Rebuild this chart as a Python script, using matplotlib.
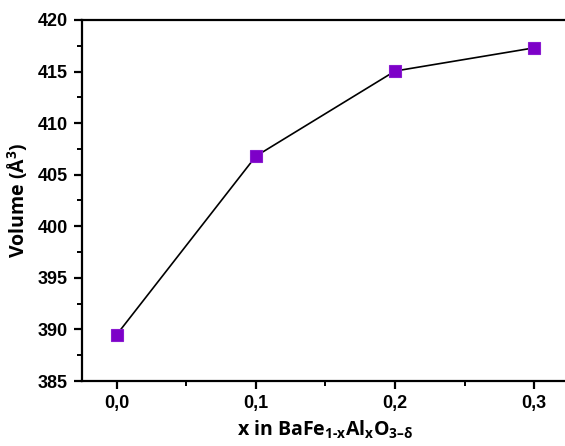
import matplotlib.pyplot as plt
from matplotlib.ticker import MultipleLocator, FuncFormatter

# Cell volume versus Al content
x_al = [0.0, 0.1, 0.2, 0.3]
volume = [389.5, 406.8, 415.05, 417.3]
y_ticks = [385, 390, 395, 400, 405, 410, 415, 420]
x_ticks = [0.0, 0.1, 0.2, 0.3]

plt.rcParams["mathtext.fontset"] = "custom"
plt.rcParams["mathtext.rm"] = "Open Sans:bold"
plt.rcParams["mathtext.it"] = "Open Sans:bold"
plt.rcParams["mathtext.bf"] = "Open Sans:bold"

fig = plt.figure(figsize=(5.65, 4.46), dpi=100)
ax = fig.add_axes([0.1451, 0.1457, 0.862, 0.8095])

ax.plot(x_al, volume, color="black", lw=1.2, marker="s", ms=8,
        mfc="#7d00c8", mec="#8a1ad0", mew=0.8)

ax.set_xlim(-0.025, 0.325)
ax.set_ylim(385, 420)
ax.set_xticks(x_ticks)
ax.set_yticks(y_ticks)
ax.xaxis.set_minor_locator(MultipleLocator(0.05))
ax.yaxis.set_minor_locator(MultipleLocator(2.5))
ax.xaxis.set_major_formatter(FuncFormatter(lambda v, p: f"{v:.1f}".replace(".", ",")))

for s in ax.spines.values():
    s.set_linewidth(1.6)

ax.tick_params(which="major", direction="out", length=6, width=1.6,
               labelsize=13, pad=4)
ax.tick_params(which="minor", direction="out", length=3.5, width=1.4)
for lab in ax.get_xticklabels() + ax.get_yticklabels():
    lab.set_fontweight("bold")
    lab.set_fontfamily("Liberation Sans")

ax.set_xlabel(r"x in BaFe$_{\mathrm{1\text{-}x}}$Al$_{\mathrm{x}}$O$_{\mathrm{3–\delta}}$",
              fontsize=14, fontweight="bold", family="Open Sans", labelpad=5)
ax.set_ylabel(r"Volume (Å$^{\mathrm{3}}$)", fontsize=14, fontweight="bold",
              family="Open Sans", labelpad=6)

fig.savefig("out.png", dpi=100)
